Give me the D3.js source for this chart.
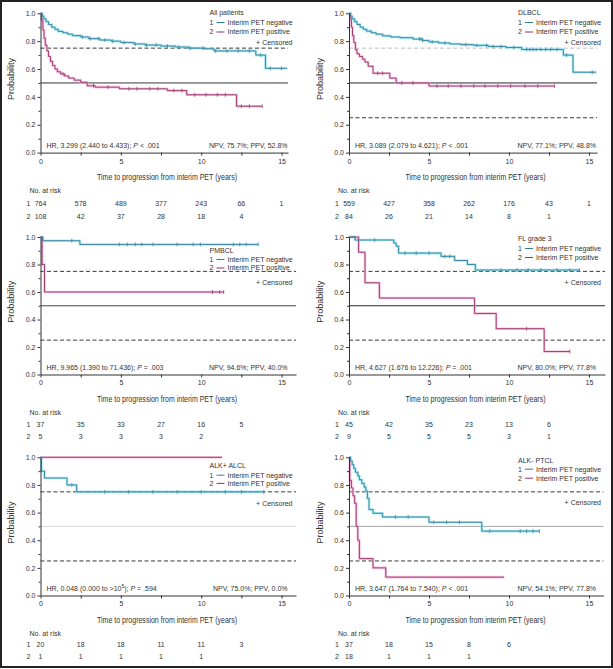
<!DOCTYPE html>
<html><head><meta charset="utf-8">
<script src="https://cdn.jsdelivr.net/npm/d3@7"></script>
<style>
body{margin:0;background:#fff}
svg{display:block}
text{font-family:"Liberation Sans",Arial,sans-serif;fill:#333}
</style>
</head><body><svg id="c" width="613" height="669"></svg>
<script>
// ---------------- DATA ----------------
const riskTimes = [0, 2.5, 5, 7.5, 10, 12.5, 15];
const xTicks = [0, 2.5, 5, 7.5, 10, 12.5, 15];
const yTicks = [0, 0.2, 0.4, 0.6, 0.8, 1.0];
const yMinorTicks = [0.1, 0.3, 0.5, 0.7, 0.9];
const panelNames = ["All patients", "DLBCL", "PMBCL", "FL grade 3", "ALK+ ALCL", "ALK- PTCL"];
const seriesLabels = ["Interim PET negative", "Interim PET positive"];

// Panel 1: All patients
const allNegT = [0, 0.1, 0.2, 0.35, 0.5, 0.7, 0.9, 1.1, 1.4, 1.7, 2.0, 2.5, 3.0, 3.7, 4.4, 5.0, 5.8, 6.5, 7.5, 8.4, 9.2, 10.2, 10.8, 13.4, 14.0];
const allNegS = [1, 0.98, 0.96, 0.94, 0.92, 0.90, 0.885, 0.87, 0.86, 0.85, 0.84, 0.83, 0.818, 0.808, 0.80, 0.79, 0.78, 0.772, 0.765, 0.758, 0.75, 0.745, 0.73, 0.70, 0.605];
const allNegEnd = 15.35;
const allNegCens = [2.6, 3.1, 3.6, 4.0, 4.5, 5.2, 5.9, 6.6, 7.2, 7.9, 8.6, 9.3, 10.1, 10.9, 11.6, 12.3, 13.0, 13.7, 14.3, 15.0];
const allPosT = [0, 0.08, 0.15, 0.22, 0.3, 0.4, 0.5, 0.62, 0.75, 0.9, 1.05, 1.25, 1.5, 1.75, 2.1, 2.5, 2.9, 3.4, 4.9, 7.9, 9.1, 12.2];
const allPosS = [1, 0.95, 0.88, 0.82, 0.77, 0.73, 0.69, 0.655, 0.625, 0.60, 0.58, 0.565, 0.55, 0.535, 0.52, 0.505, 0.48, 0.47, 0.458, 0.445, 0.415, 0.333];
const allPosEnd = 13.8;
const allPosCens = [1.4, 3.3, 4.2, 5.5, 6.0, 6.8, 7.3, 8.3, 8.8, 9.6, 10.3, 11.0, 11.5, 12.5, 13.0, 13.8];
const allRisk1 = [764, 578, 489, 377, 243, 66, 1];
const allRisk2 = [108, 42, 37, 28, 18, 4];
const allHR = [["HR, 3.299 (2.440 to 4.433); "], ["P", "it"], [" < .001"]];
const allNPV = "NPV, 75.7%; PPV, 52.8%";

// Panel 2: DLBCL
const dlNegT = [0, 0.1, 0.2, 0.35, 0.5, 0.7, 0.9, 1.1, 1.4, 1.7, 2.1, 2.6, 3.2, 4.0, 4.6, 5.0, 5.6, 6.3, 7.0, 7.8, 8.7, 9.8, 10.8, 13.4, 14.0];
const dlNegS = [1, 0.98, 0.96, 0.94, 0.92, 0.90, 0.885, 0.872, 0.86, 0.85, 0.838, 0.83, 0.825, 0.815, 0.805, 0.795, 0.787, 0.78, 0.775, 0.77, 0.762, 0.755, 0.74, 0.70, 0.577];
const dlNegEnd = 15.45;
const dlNegCens = [4.4, 4.5, 4.6, 5.2, 6.0, 7.3, 8.0, 8.6, 9.0, 9.5, 10.3, 11.1, 11.3, 11.5, 11.7, 12.0, 12.3, 12.6, 13.0, 13.6, 15.2];
const dlPosT = [0, 0.08, 0.15, 0.22, 0.3, 0.4, 0.5, 0.65, 0.85, 1.0, 1.2, 1.5, 2.55, 2.95, 5.0];
const dlPosS = [1, 0.96, 0.90, 0.84, 0.79, 0.74, 0.71, 0.69, 0.67, 0.65, 0.62, 0.57, 0.535, 0.50, 0.478];
const dlPosEnd = 12.85;
const dlPosCens = [1.8, 2.1, 3.3, 4.0, 5.5, 6.2, 7.0, 7.8, 8.5, 9.3, 10.1, 11.0, 11.8, 12.85];
const dlRisk1 = [559, 427, 358, 262, 176, 43, 1];
const dlRisk2 = [84, 26, 21, 14, 8, 1];
const dlHR = [["HR, 3.089 (2.079 to 4.621); "], ["P", "it"], [" < .001"]];
const dlNPV = "NPV, 77.1%; PPV, 48.8%";

// Panel 3: PMBCL
const pmNegT = [0, 0.15, 2.45];
const pmNegS = [1, 0.973, 0.946];
const pmNegEnd = 13.55;
const pmNegCens = [1.95, 4.9, 5.4, 5.9, 6.3, 7.0, 8.5, 9.5, 9.95, 12.0, 12.4, 12.8, 13.55];
const pmPosT = [0, 0.1, 0.25];
const pmPosS = [1, 0.8, 0.6];
const pmPosEnd = 11.4;
const pmPosCens = [10.7, 11.15, 11.4];
const pmRisk1 = [37, 35, 33, 27, 16, 5];
const pmRisk2 = [5, 3, 3, 3, 2];
const pmHR = [["HR, 9.965 (1.390 to 71.436); "], ["P", "it"], [" = .003"]];
const pmNPV = "NPV, 94.6%; PPV, 40.0%";

// Panel 4: FL grade 3
const flNegT = [0, 0.375, 2.8, 2.95, 3.1, 5.75, 6.6, 7.4, 7.9];
const flNegS = [1, 0.978, 0.956, 0.933, 0.883, 0.859, 0.829, 0.80, 0.76];
const flNegEnd = 14.4;
const flNegCens = [1.6, 3.5, 4.2, 5.0, 6.0, 6.3, 9.5, 10.5, 11.2, 12.0, 13.0, 13.8, 14.4];
const flPosT = [0, 0.6, 1.0, 1.9, 7.85, 9.2, 12.2];
const flPosS = [1, 0.889, 0.667, 0.556, 0.444, 0.333, 0.167];
const flPosEnd = 13.8;
const flPosCens = [11.1, 13.8];
const flRisk1 = [45, 42, 35, 23, 13, 6];
const flRisk2 = [9, 5, 5, 5, 3, 1];
const flHR = [["HR, 4.627 (1.676 to 12.226); "], ["P", "it"], [" = .001"]];
const flNPV = "NPV, 80.0%; PPV, 77.8%";

// Panel 5: ALK+ ALCL
const alNegT = [0, 0.05, 0.25, 1.65, 2.25];
const alNegS = [1, 0.90, 0.85, 0.80, 0.75];
const alNegEnd = 13.9;
const alNegCens = [1.95, 4.0, 5.5, 7.0, 8.5, 10.0, 11.5, 12.5, 13.9];
const alPosT = [0];
const alPosS = [1];
const alPosEnd = 11.3;
const alPosCens = [];
const alRisk1 = [20, 18, 18, 11, 11, 3];
const alRisk2 = [1, 1, 1, 1, 1];
const alHR = [["HR, 0.048 (0.000 to >10"], ["5", "sup"], ["); "], ["P", "it"], [" = .594"]];
const alNPV = "NPV, 75.0%; PPV, 0.0%";

// Panel 6: ALK- PTCL
const ptNegT = [0, 0.1, 0.2, 0.3, 0.4, 0.55, 0.65, 0.8, 0.95, 1.05, 1.15, 1.25, 1.5, 2.1, 5.0, 8.3];
const ptNegS = [1, 0.973, 0.946, 0.919, 0.892, 0.865, 0.838, 0.811, 0.784, 0.757, 0.703, 0.622, 0.595, 0.568, 0.53, 0.466];
const ptNegEnd = 11.9;
const ptNegCens = [2.9, 3.7, 5.3, 6.1, 6.9, 8.8, 10.7, 11.1, 11.5, 11.9];
const ptPosT = [0, 0.05, 0.15, 0.25, 0.35, 0.45, 0.55, 0.65, 1.5, 2.3];
const ptPosS = [1, 0.833, 0.778, 0.722, 0.667, 0.50, 0.40, 0.267, 0.20, 0.133];
const ptPosEnd = 9.7;
const ptPosCens = [];
const ptRisk1 = [37, 18, 15, 8, 6];
const ptRisk2 = [18, 1, 1, 1];
const ptHR = [["HR, 3.647 (1.764 to 7.540); "], ["P", "it"], [" < .001"]];
const ptNPV = "NPV, 54.1%; PPV, 77.8%";

// ---------------- LAYOUT / STYLE ----------------
const colX = [{x0: 40.5, ppy: 16.07}, {x0: 349, ppy: 16.0}];
const rowY = [
  {top: 13.3, bottom: 152.6, risk: [40.5, 53.8, 66.5]},
  {top: 237, bottom: 374.5, risk: [40.8, 52, 64.5]},
  {top: 457.3, bottom: 595.5, risk: [40, 51, 63.5]}
];
const axisEnds = [15.4, 15.5, 15.9, 16.0, 15.9, 15.9];
const legendY = [
  [1.5, 11.5, 21, 32],
  [1.5, 11.5, 21, 32],
  [15.5, 24.8, 33.3, 47.5],
  [3.8, 13.8, 22.8, 47.5],
  [10.9, 20.2, 28.4, 48.2],
  [5.2, 14.2, 23.2, 47.2]
];
const refStyles = [
  [{v: 0.75, dash: true, c: "#222"}, {v: 0.5, c: "#222"}],
  [{v: 0.75, dash: true, c: "#b8b8b8"}, {v: 0.5, c: "#111"}, {v: 0.25, dash: true, c: "#222"}],
  [{v: 0.75, dash: true, c: "#222"}, {v: 0.5, c: "#333"}, {v: 0.25, dash: true, c: "#222"}],
  [{v: 0.75, dash: true, c: "#222"}, {v: 0.5, c: "#111"}, {v: 0.25, dash: true, c: "#222"}],
  [{v: 0.75, dash: true, c: "#222"}, {v: 0.5, c: "#d0d0d0"}, {v: 0.25, dash: true, c: "#222"}],
  [{v: 0.75, dash: true, c: "#222"}, {v: 0.5, c: "#9a9a9a"}, {v: 0.25, dash: true, c: "#222"}]
];
const negColor = "#2f7f98", negHalo = "#8fe0f2";
const posColor = "#962f6c", posHalo = "#f4b0d2";

const panels = [
  {neg: [allNegT, allNegS, allNegEnd, allNegCens], pos: [allPosT, allPosS, allPosEnd, allPosCens], r1: allRisk1, r2: allRisk2, hr: allHR, npv: allNPV},
  {neg: [dlNegT, dlNegS, dlNegEnd, dlNegCens], pos: [dlPosT, dlPosS, dlPosEnd, dlPosCens], r1: dlRisk1, r2: dlRisk2, hr: dlHR, npv: dlNPV},
  {neg: [pmNegT, pmNegS, pmNegEnd, pmNegCens], pos: [pmPosT, pmPosS, pmPosEnd, pmPosCens], r1: pmRisk1, r2: pmRisk2, hr: pmHR, npv: pmNPV},
  {neg: [flNegT, flNegS, flNegEnd, flNegCens], pos: [flPosT, flPosS, flPosEnd, flPosCens], r1: flRisk1, r2: flRisk2, hr: flHR, npv: flNPV},
  {neg: [alNegT, alNegS, alNegEnd, alNegCens], pos: [alPosT, alPosS, alPosEnd, alPosCens], r1: alRisk1, r2: alRisk2, hr: alHR, npv: alNPV},
  {neg: [ptNegT, ptNegS, ptNegEnd, ptNegCens], pos: [ptPosT, ptPosS, ptPosEnd, ptPosCens], r1: ptRisk1, r2: ptRisk2, hr: ptHR, npv: ptNPV}
];

// ---------------- DRAW ----------------
const svg = d3.select("#c");
svg.append("rect").attr("x", 1).attr("y", 1).attr("width", 611).attr("height", 666)
  .attr("fill", "#fff").attr("stroke", "#222").attr("stroke-width", 2);

function survAt(T, S, t) {
  let s = S[0];
  for (let k = 0; k < T.length; k++) if (T[k] <= t) s = S[k];
  return s;
}

panels.forEach((p, i) => {
  const {x0, ppy} = colX[i % 2];
  const {top, bottom, risk} = rowY[Math.floor(i / 2)];
  const aEnd = axisEnds[i];
  const x = d3.scaleLinear().domain([0, aEnd]).range([x0, x0 + aEnd * ppy]);
  const y = d3.scaleLinear().domain([0, 1]).range([bottom, top]);
  const g = svg.append("g");

  // reference lines
  refStyles[i].forEach(r => {
    g.append("line").attr("x1", x(0)).attr("x2", x(aEnd))
      .attr("y1", y(r.v)).attr("y2", y(r.v))
      .attr("stroke", r.c).attr("stroke-width", 0.9)
      .attr("stroke-dasharray", r.dash ? "4,2.5" : null);
  });

  const line = d3.line().x(d => x(d[0])).y(d => y(d[1])).curve(d3.curveStepAfter);
  const series = [[p.pos, posColor, posHalo], [p.neg, negColor, negHalo]];
  const ptsOf = s => { const pts = s[0].map((t, k) => [t, s[1][k]]); pts.push([s[2], s[1][s[1].length - 1]]); return pts; };
  series.forEach(([s, c, h]) => {
    g.append("path").attr("d", line(ptsOf(s))).attr("fill", "none").attr("stroke", h).attr("stroke-width", 2.6).attr("stroke-opacity", 0.75);
  });
  series.forEach(([s, c, h]) => {
    g.append("path").attr("d", line(ptsOf(s))).attr("fill", "none").attr("stroke", c).attr("stroke-width", 0.9);
    s[3].forEach(t => {
      const v = survAt(s[0], s[1], t);
      g.append("line").attr("x1", x(t)).attr("x2", x(t)).attr("y1", y(v) - 2).attr("y2", y(v) + 2)
        .attr("stroke", c).attr("stroke-width", 0.7);
    });
  });

  // axes
  g.append("g").attr("transform", `translate(0,${bottom})`)
    .call(d3.axisBottom(x).tickValues(xTicks).tickSize(3).tickSizeOuter(0).tickPadding(3)
      .tickFormat(d => d % 5 === 0 ? d : ""));
  g.append("g").attr("transform", `translate(${x0},0)`)
    .call(d3.axisLeft(y).tickValues(yTicks).tickSize(3).tickSizeOuter(0).tickPadding(2)
      .tickFormat(d3.format(".1f")));
  g.append("g").attr("transform", `translate(${x0},0)`)
    .call(d3.axisLeft(y).tickValues(yMinorTicks).tickSize(2).tickSizeOuter(0).tickFormat(""))
    .select(".domain").remove();
  g.selectAll(".domain").attr("stroke", "#333").attr("stroke-width", 1);
  g.selectAll(".tick line").attr("stroke", "#333");
  g.selectAll(".tick text").attr("font-size", 7).attr("fill", "#444")
    .attr("font-family", '"Liberation Sans",Arial,sans-serif');

  // axis titles
  g.append("text").attr("x", x0 + 126.5).attr("y", bottom + 27.5).attr("text-anchor", "middle")
    .attr("font-size", 9.5).attr("fill", "#1a1a1a")
    .attr("textLength", 140).attr("lengthAdjust", "spacingAndGlyphs")
    .text("Time to progression from interim PET (years)");
  g.append("text").attr("transform", `translate(${x0 - 26.5},${(top + bottom) / 2 - 4}) rotate(-90)`)
    .attr("text-anchor", "middle").attr("font-size", 9.5).attr("fill", "#1a1a1a")
    .attr("textLength", 42).attr("lengthAdjust", "spacingAndGlyphs")
    .text("Probability");

  // HR / NPV annotation
  const hr = g.append("text").attr("x", x0 + 6).attr("y", bottom - 5).attr("font-size", 7).attr("fill", "#444");
  p.hr.forEach(([t, st]) => {
    const ts = hr.append("tspan").text(t);
    if (st === "it") ts.attr("font-style", "italic");
    if (st === "sup") ts.attr("font-size", 5).attr("baseline-shift", "super");
  });
  g.append("text").attr("x", x0 + 247).attr("y", bottom - 5).attr("text-anchor", "end")
    .attr("font-size", 7).attr("fill", "#444").text(p.npv);

  // legend
  const ly = legendY[i];
  const lx = x0 + 169;
  g.append("text").attr("x", lx).attr("y", top + ly[0]).attr("font-size", 7).attr("fill", "#444").text(panelNames[i]);
  [[negColor, seriesLabels[0]], [posColor, seriesLabels[1]]].forEach(([c, lab], k) => {
    const yy = top + ly[k + 1];
    g.append("text").attr("x", lx).attr("y", yy).attr("font-size", 7).attr("fill", "#444").text(String(k + 1));
    g.append("line").attr("x1", lx + 7).attr("x2", lx + 15).attr("y1", yy - 2.3).attr("y2", yy - 2.3)
      .attr("stroke", c).attr("stroke-width", 1);
    g.append("text").attr("x", lx + 18).attr("y", yy).attr("font-size", 7).attr("fill", "#444").text(lab);
  });
  g.append("text").attr("x", x0 + 252).attr("y", top + ly[3]).attr("text-anchor", "end")
    .attr("font-size", 7).attr("fill", "#444").text("+ Censored");

  // risk table
  g.append("text").attr("x", x0 - 11).attr("y", bottom + risk[0]).attr("font-size", 7).attr("fill", "#444").text("No. at risk");
  [p.r1, p.r2].forEach((row, k) => {
    const yy = bottom + risk[k + 1];
    g.append("text").attr("x", x0 - 14).attr("y", yy).attr("font-size", 7).attr("fill", "#444").text(String(k + 1));
    row.forEach((n, j) => {
      g.append("text").attr("x", x(riskTimes[j])).attr("y", yy).attr("text-anchor", "middle")
        .attr("font-size", 7).attr("fill", "#444").text(n);
    });
  });
});
</script></body></html>
